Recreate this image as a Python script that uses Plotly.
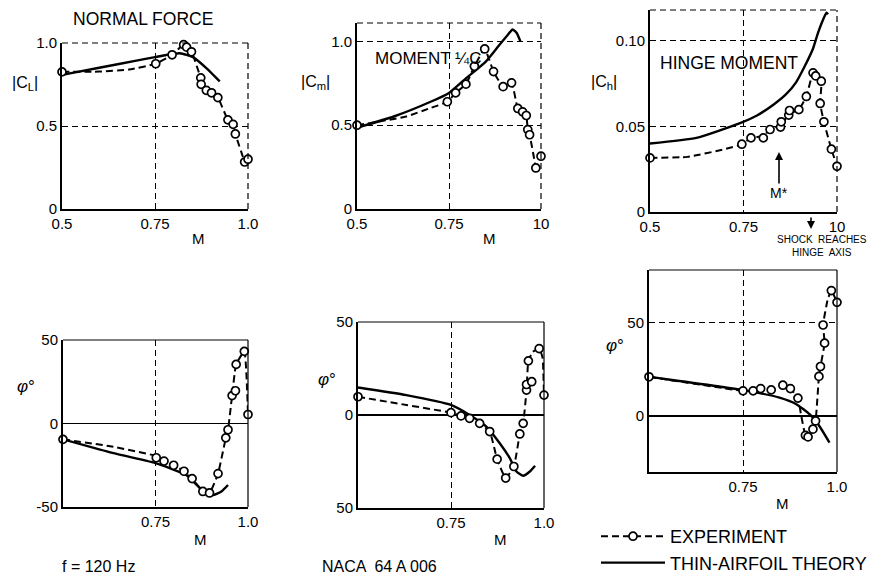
import plotly.graph_objects as go

W, H = 883, 575
FONT = "Liberation Sans"

# ---------------- data ----------------
# Panel 1: normal force |C_L|
nf_pts_M = [0.5, 0.752, 0.796, 0.827, 0.835, 0.848, 0.873, 0.874, 0.888, 0.902, 0.919, 0.946, 0.96, 0.966, 0.991, 1.0]
nf_pts_v = [0.826, 0.875, 0.929, 0.99, 0.975, 0.947, 0.79, 0.751, 0.715, 0.70, 0.671, 0.537, 0.51, 0.452, 0.283, 0.30]
nf_exp_M = [0.5, 0.6, 0.68, 0.752, 0.796, 0.827, 0.848, 0.873, 0.888, 0.902, 0.919, 0.946, 0.96, 0.966, 0.991]
nf_exp_v = [0.826, 0.828, 0.84, 0.875, 0.929, 0.99, 0.947, 0.79, 0.715, 0.70, 0.671, 0.537, 0.51, 0.452, 0.283]
nf_th_M = [0.5, 0.6, 0.7, 0.75, 0.78, 0.817, 0.852, 0.888, 0.924]
nf_th_v = [0.808, 0.851, 0.894, 0.915, 0.928, 0.938, 0.915, 0.849, 0.769]

# Panel 2: moment about quarter chord |C_m|
cm_pts_M = [0.5, 0.7455, 0.768, 0.796, 0.819, 0.847, 0.871, 0.897, 0.92, 0.937, 0.95, 0.96, 0.964, 0.969, 0.986, 1.0]
cm_pts_v = [0.5, 0.64, 0.693, 0.745, 0.852, 0.955, 0.82, 0.73, 0.753, 0.60, 0.58, 0.558, 0.474, 0.443, 0.245, 0.315]
cm_exp_M = [0.5, 0.634, 0.696, 0.7455, 0.768, 0.796, 0.819, 0.847, 0.871, 0.897, 0.92, 0.937, 0.95, 0.96, 0.964, 0.969, 0.986]
cm_exp_v = [0.5, 0.552, 0.60, 0.64, 0.693, 0.745, 0.852, 0.955, 0.82, 0.73, 0.753, 0.60, 0.58, 0.558, 0.474, 0.443, 0.245]
cm_th_M = [0.5, 0.6, 0.7, 0.75, 0.8, 0.85, 0.885, 0.91, 0.923, 0.934, 0.944]
cm_th_v = [0.485, 0.552, 0.64, 0.693, 0.787, 0.88, 0.974, 1.04, 1.071, 1.05, 1.0]

# Panel 3: hinge moment |C_h|
ch_pts_M = [0.5, 0.7456, 0.77, 0.803, 0.821, 0.849, 0.851, 0.871, 0.873, 0.898, 0.918, 0.936, 0.943, 0.958, 0.955, 0.965, 0.985, 1.0]
ch_pts_v = [0.0316, 0.0396, 0.0433, 0.0433, 0.0482, 0.0496, 0.0527, 0.0566, 0.0593, 0.0598, 0.0675, 0.0813, 0.0795, 0.0764, 0.0634, 0.0527, 0.0367, 0.0267]
ch_exp_M = [0.5, 0.6, 0.7, 0.7456, 0.77, 0.803, 0.821, 0.85, 0.873, 0.898, 0.918, 0.936, 0.943, 0.958, 0.955, 0.965, 0.985, 1.0]
ch_exp_v = [0.0316, 0.0322, 0.0367, 0.0396, 0.0433, 0.0443, 0.0482, 0.051, 0.0575, 0.0598, 0.0675, 0.0813, 0.0795, 0.0764, 0.0634, 0.0527, 0.0367, 0.0267]
ch_th_M = [0.5, 0.624, 0.739, 0.786, 0.829, 0.864, 0.891, 0.913, 0.936, 0.949, 0.963, 0.972, 0.976]
ch_th_v = [0.040, 0.0433, 0.0518, 0.0564, 0.0625, 0.0688, 0.0759, 0.0848, 0.0955, 0.1045, 0.1125, 0.1164, 0.1155]

# Panel 4: phase of normal force (deg)
pn_pts_M = [0.5, 0.752, 0.773, 0.799, 0.827, 0.849, 0.878, 0.896, 0.919, 0.94, 0.946, 0.957, 0.966, 0.968, 0.99, 1.0]
pn_pts_v = [-9.5, -20.5, -22.5, -25.0, -28.6, -33.0, -40.7, -41.6, -30.0, -8.6, -3.75, 16.7, 19.6, 35.4, 43.2, 5.4]
pn_exp_M = [0.5, 0.627, 0.752, 0.773, 0.799, 0.827, 0.849, 0.878, 0.896, 0.919, 0.94, 0.946, 0.957, 0.968, 0.99, 1.0]
pn_exp_v = [-9.5, -13.6, -19.5, -22.5, -25.0, -28.6, -33.0, -40.7, -41.6, -30.0, -8.6, -3.75, 16.7, 35.4, 43.2, 5.4]
pn_th_M = [0.5, 0.625, 0.75, 0.833, 0.878, 0.905, 0.928, 0.946]
pn_th_v = [-9.5, -17.1, -23.75, -30.9, -40.2, -42.9, -40.7, -36.8]

# Panel 5: phase of moment (deg)
pm_pts_M = [0.5, 0.75, 0.777, 0.8, 0.827, 0.854, 0.874, 0.897, 0.919, 0.935, 0.944, 0.953, 0.953, 0.967, 0.958, 0.987, 1.0]
pm_pts_v = [9.8, 1.25, -0.5, -1.8, -4.5, -8.9, -23.75, -33.9, -27.7, -10.2, -4.5, 13.4, 16.4, 17.9, 29.1, 35.7, 10.7]
pm_exp_M = [0.5, 0.63, 0.75, 0.777, 0.8, 0.827, 0.854, 0.874, 0.897, 0.919, 0.935, 0.944, 0.953, 0.958, 0.97, 0.987, 0.996, 1.0]
pm_exp_v = [9.8, 5.4, 1.25, -0.5, -1.8, -4.5, -8.9, -23.75, -33.9, -27.7, -10.2, -4.5, 13.4, 29.1, 34.0, 35.7, 31.0, 10.7]
pm_th_M = [0.5, 0.63, 0.75, 0.8, 0.845, 0.881, 0.908, 0.926, 0.944, 0.962, 0.976]
pm_th_v = [14.8, 10.7, 5.4, 0.0, -6.25, -15.2, -23.2, -30.4, -32.7, -30.4, -27.3]

# Panel 6: phase of hinge moment (deg)
ph_pts_M = [0.5, 0.75, 0.777, 0.797, 0.825, 0.856, 0.876, 0.896, 0.916, 0.923, 0.936, 0.943, 0.952, 0.956, 0.967, 0.963, 0.985, 1.0]
ph_pts_v = [20.9, 13.4, 13.4, 14.6, 13.9, 16.4, 14.6, 9.5, -10.4, -11.25, -7.1, -2.7, 21.1, 26.4, 38.9, 48.6, 67.0, 60.7]
ph_exp_M = [0.5, 0.75, 0.777, 0.797, 0.825, 0.856, 0.876, 0.896, 0.905, 0.916, 0.923, 0.936, 0.943, 0.952, 0.956, 0.967, 0.963, 0.975, 0.985, 1.0]
ph_exp_v = [20.9, 13.4, 13.4, 14.6, 13.9, 16.4, 14.6, 9.5, 0.0, -10.4, -11.25, -7.1, -2.7, 21.1, 26.4, 38.9, 48.6, 62.0, 67.0, 60.7]
ph_th_M = [0.5, 0.75, 0.847, 0.892, 0.927, 0.953, 0.98]
ph_th_v = [20.9, 13.75, 9.8, 6.25, 0.9, -5.4, -14.3]

# tick values / labels
top_xtick_vals = [0.5, 0.75, 1.0]
nf_xtick_text = ["0.5", "0.75", "1.0"]
cm_xtick_text = ["0.5", "0.75", "10"]
ch_xtick_text = ["0.5", "0.75", "10"]
bot_xtick_vals = [0.75, 1.0]
bot_xtick_text = ["0.75", "1.0"]
nf_ytick_vals = [0, 0.5, 1.0]
nf_ytick_text = ["0", "0.5", "1.0"]
cm_ytick_vals = [0, 0.5, 1.0]
cm_ytick_text = ["0", "0.5", "1.0"]
ch_ytick_vals = [0, 0.05, 0.10]
ch_ytick_text = ["0", "0.05", "0.10"]
pn_ytick_vals = [-50, 0, 50]
pn_ytick_text = ["-50", "0", "50"]
pm_ytick_vals = [-50, 0, 50]
pm_ytick_text = ["50", "0", "50"]
ph_ytick_vals = [0, 50]
ph_ytick_text = ["0", "50"]

# ---------------- layout helpers ----------------
def px_x(x):
    return x / W

def px_y(y):
    return 1 - y / H

panels = [
    dict(e=(nf_exp_M, nf_exp_v), p=(nf_pts_M, nf_pts_v), t=(nf_th_M, nf_th_v), xb=(62, 248), yb=(43, 209),
         yr=[0, 1.0], xtv=top_xtick_vals, xtt=nf_xtick_text, ytv=nf_ytick_vals, ytt=nf_ytick_text, phase=False),
    dict(e=(cm_exp_M, cm_exp_v), p=(cm_pts_M, cm_pts_v), t=(cm_th_M, cm_th_v), xb=(357, 541), yb=(23, 209),
         yr=[0, 1.11], xtv=top_xtick_vals, xtt=cm_xtick_text, ytv=cm_ytick_vals, ytt=cm_ytick_text, phase=False),
    dict(e=(ch_exp_M, ch_exp_v), p=(ch_pts_M, ch_pts_v), t=(ch_th_M, ch_th_v), xb=(650, 837), yb=(10, 212),
         yr=[0, 0.118], xtv=top_xtick_vals, xtt=ch_xtick_text, ytv=ch_ytick_vals, ytt=ch_ytick_text, phase=False),
    dict(e=(pn_exp_M, pn_exp_v), p=(pn_pts_M, pn_pts_v), t=(pn_th_M, pn_th_v), xb=(63, 248), yb=(340, 507),
         yr=[-50, 50], xtv=bot_xtick_vals, xtt=bot_xtick_text, ytv=pn_ytick_vals, ytt=pn_ytick_text, phase=True),
    dict(e=(pm_exp_M, pm_exp_v), p=(pm_pts_M, pm_pts_v), t=(pm_th_M, pm_th_v), xb=(358, 544), yb=(322, 508),
         yr=[-50, 50], xtv=bot_xtick_vals, xtt=bot_xtick_text, ytv=pm_ytick_vals, ytt=pm_ytick_text, phase=True),
    dict(e=(ph_exp_M, ph_exp_v), p=(ph_pts_M, ph_pts_v), t=(ph_th_M, ph_th_v), xb=(649, 837), yb=(270, 472),
         yr=[-30, 78], xtv=bot_xtick_vals, xtt=bot_xtick_text, ytv=ph_ytick_vals, ytt=ph_ytick_text, phase=True),
]

fig = go.Figure()
layout = dict(
    width=W, height=H, autosize=False,
    margin=dict(l=0, r=0, t=0, b=0, pad=0, autoexpand=False),
    paper_bgcolor="white", plot_bgcolor="white",
    font=dict(family=FONT, size=15, color="black"),
    showlegend=True,
    legend=dict(x=px_x(596), y=px_y(518), xanchor="left", yanchor="top",
                bgcolor="rgba(0,0,0,0)", itemwidth=64, font=dict(size=18, family=FONT),
                tracegroupgap=4),
)
shapes = []

for i, pnl in enumerate(panels, start=1):
    sx = "" if i == 1 else str(i)
    xa, ya = "x" + sx, "y" + sx
    fig.add_trace(go.Scatter(x=pnl["t"][0], y=pnl["t"][1], mode="lines", xaxis=xa, yaxis=ya,
                             line=dict(color="black", width=2.4, shape="spline", smoothing=0.5),
                             showlegend=False, hoverinfo="skip"))
    fig.add_trace(go.Scatter(x=pnl["e"][0], y=pnl["e"][1], mode="lines", xaxis=xa, yaxis=ya,
                             line=dict(color="black", width=2, dash="7px,4px", shape="spline", smoothing=0.4),
                             showlegend=False, hoverinfo="skip"))
    fig.add_trace(go.Scatter(x=pnl["p"][0], y=pnl["p"][1], mode="markers", xaxis=xa, yaxis=ya,
                             marker=dict(symbol="circle", size=8, color="white",
                                         line=dict(color="black", width=1.7)),
                             showlegend=False, cliponaxis=False))
    x0, x1 = pnl["xb"]
    ytop, ybot = pnl["yb"]
    layout["xaxis" + sx] = dict(
        domain=[px_x(x0), px_x(x1)], range=[0.5, 1.0], anchor=ya, automargin=False,
        showline=True, linecolor="black", linewidth=2, mirror=False,
        tickvals=pnl["xtv"], ticktext=pnl["xtt"], ticks="",
        showgrid=True, gridcolor="black", gridwidth=1, griddash="6px,4px",
        zeroline=False, tickfont=dict(size=15, family=FONT), fixedrange=True,
    )
    layout["yaxis" + sx] = dict(
        domain=[px_y(ybot), px_y(ytop)], range=pnl["yr"], anchor=xa, automargin=False,
        showline=True, linecolor="black", linewidth=2, mirror=False,
        tickvals=pnl["ytv"], ticktext=pnl["ytt"], ticks="",
        showgrid=True, gridcolor="black", gridwidth=1, griddash="6px,4px",
        zeroline=pnl["phase"], zerolinecolor="black", zerolinewidth=1.6,
        tickfont=dict(size=15, family=FONT), fixedrange=True,
    )
    dash = "solid" if pnl["phase"] else "6px,4px"
    shapes.append(dict(type="line", xref=xa + " domain", yref=ya + " domain", x0=0, x1=1, y0=1, y1=1,
                       line=dict(color="black", width=1.2, dash=dash)))
    shapes.append(dict(type="line", xref=xa + " domain", yref=ya + " domain", x0=1, x1=1, y0=0, y1=1,
                       line=dict(color="black", width=1.2, dash=dash)))

# legend entries
fig.add_trace(go.Scatter(x=[None], y=[None], mode="lines+markers", name="EXPERIMENT",
                         line=dict(color="black", width=2, dash="7px,4px"),
                         marker=dict(symbol="circle", size=8, color="white", line=dict(color="black", width=1.7))))
fig.add_trace(go.Scatter(x=[None], y=[None], mode="lines", name="THIN-AIRFOIL THEORY",
                         line=dict(color="black", width=2.4)))

def txt(x, y, s, size=15, xanchor="center", yanchor="middle"):
    return dict(x=px_x(x), y=px_y(y), xref="paper", yref="paper", text=s, showarrow=False,
                xanchor=xanchor, yanchor=yanchor, font=dict(size=size, family=FONT, color="black"))

annotations = [
    txt(143, 19, "NORMAL FORCE", 17.5),
    txt(428, 59, "MOMENT ¼C", 17),
    txt(729, 63, "HINGE MOMENT", 17.5),
    txt(25, 84, "|C<sub>L</sub>|", 16),
    txt(315, 82, "|C<sub>m</sub>|", 16),
    txt(604, 82, "|C<sub>h</sub>|", 16),
    txt(26, 386, "<i>φ</i>°", 17),
    txt(327, 379, "<i>φ</i>°", 17),
    txt(615, 346, "<i>φ</i>°", 17),
    txt(198, 238, "M", 15),
    txt(489, 239, "M", 15),
    txt(200, 539, "M", 15),
    txt(500, 539, "M", 15),
    txt(782, 503, "M", 15),
    txt(60, 566, "f = 120 Hz", 16, xanchor="left"),
    txt(320, 566, "NACA  64 A 006", 16, xanchor="left"),
    txt(822, 246, "SHOCK  REACHES<br>HINGE  AXIS", 10),
    dict(x=px_x(779), y=px_y(152), xref="paper", yref="paper", text="M*", showarrow=True,
         ax=0, ay=41, arrowhead=2, arrowsize=1, arrowwidth=1.6, arrowcolor="black",
         font=dict(size=14, family=FONT, color="black")),
    dict(x=px_x(811), y=px_y(229), xref="paper", yref="paper", text="", showarrow=True,
         ax=0, ay=-13, arrowhead=2, arrowsize=1, arrowwidth=1.6, arrowcolor="black"),
]

layout["shapes"] = shapes
layout["annotations"] = annotations
fig.update_layout(**layout)
fig.write_html("out.html", config={"displayModeBar": False, "staticPlot": True},
               post_script="document.body.style.margin='0px';document.body.style.overflow='hidden';")
